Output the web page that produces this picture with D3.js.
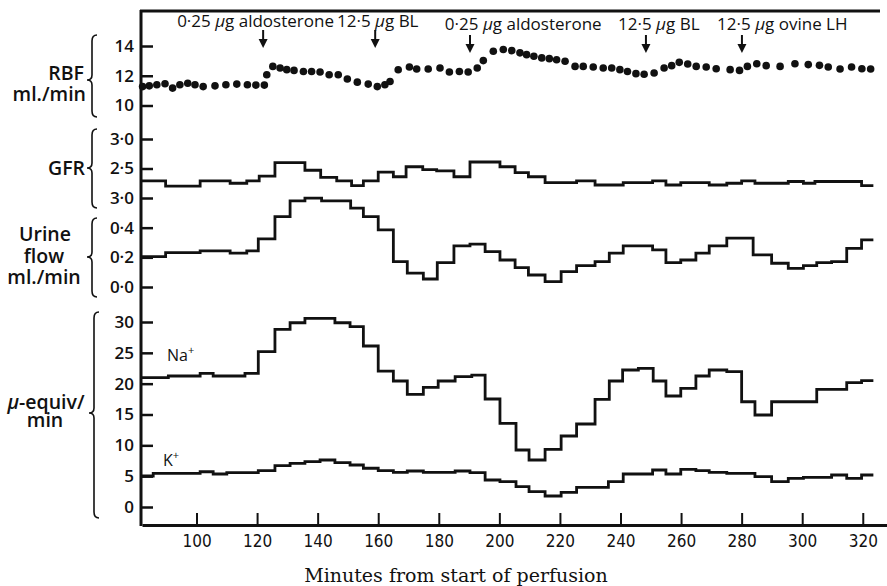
<!DOCTYPE html>
<html lang="en">
<head>
  <meta charset="UTF-8">
  <title>Perfusion</title>
  <script src="https://cdn.jsdelivr.net/npm/d3@7"></script>
  <style>
    body { margin: 0; background: #fff; }
    text { fill: #111; }
    .side { font-family: 'Open Sans', sans-serif; font-weight: 600; font-size: 19.5px; }
    .yaxis text { font-family: 'Open Sans', sans-serif; font-weight: 600; font-size: 17px; }
    .xaxis text { font-family: 'Liberation Sans Narrow', 'DejaVu Sans Condensed', 'Roboto Condensed', sans-serif; font-size: 17px; font-stretch: condensed; }
    .note { font-family: 'Open Sans', sans-serif; font-size: 17px; }
    .ion { font-family: 'Open Sans', sans-serif; font-size: 16px; }
    .title { font-family: 'DejaVu Serif', serif; font-size: 19px; }
  </style>
</head>
<body>
<div id="grafica"></div>
<script>
// minutes axis
xTicks = [100, 120, 140, 160, 180, 200, 220, 240, 260, 280, 300, 320]

// RBF (ml./min), dots
rbfTimes = [82.2, 84.4, 86.9, 89.6, 92.1, 94.5, 97.1, 99.5, 102.2, 106.1, 109.7, 113.3, 116.8, 119.6, 122.4,
  123.2, 125.2, 127.6, 129.8, 132.2, 135.3, 138.0, 140.8, 143.8, 146.8, 149.8, 153.1, 156.7, 159.7, 162.2,
  163.9, 166.6, 170.3, 172.7, 176.5, 180.4, 183.5, 186.8, 189.7, 192.7, 194.7, 198.0, 201.3, 204.1, 206.8,
  209.0, 211.4, 214.0, 216.5, 218.9, 221.7, 225.0, 227.7, 231.0, 234.3, 237.1, 239.8, 242.3, 245.1, 247.8,
  251.1, 254.4, 256.9, 259.4, 262.2, 265.0, 268.3, 271.6, 276.2, 279.3, 281.9, 285.0, 288.1, 292.7, 297.6,
  302.0, 305.7, 308.6, 312.5, 316.3, 319.7, 322.6]
rbfValues = [11.27, 11.32, 11.39, 11.46, 11.17, 11.39, 11.50, 11.39, 11.27, 11.32, 11.39, 11.44, 11.39, 11.37, 11.37,
  12.07, 12.63, 12.52, 12.41, 12.36, 12.29, 12.29, 12.25, 12.07, 12.07, 11.78, 11.57, 11.44, 11.27, 11.39,
  11.61, 12.40, 12.59, 12.45, 12.45, 12.52, 12.25, 12.29, 12.25, 12.52, 13.02, 13.65, 13.76, 13.69, 13.54,
  13.42, 13.31, 13.20, 13.15, 13.08, 12.97, 12.63, 12.63, 12.59, 12.52, 12.52, 12.41, 12.29, 12.14, 12.10,
  12.18, 12.52, 12.68, 12.90, 12.79, 12.63, 12.59, 12.47, 12.41, 12.36, 12.63, 12.81, 12.68, 12.63, 12.81,
  12.75, 12.70, 12.59, 12.45, 12.59, 12.47, 12.45]

// GFR, step periods (edges are period boundaries in minutes)
gfrEdges = [82, 89.8, 101.2, 111.1, 116.6, 120.7, 125.9, 135.8, 141.0, 146.3, 151.2, 155.1, 160.0, 165.0, 169.2,
  174.7, 179.3, 185.0, 190.3, 200.2, 205.2, 209.6, 215.1, 225.5, 231.6, 240.9, 250.6, 255.0, 259.9, 269.3,
  275.1, 280.0, 284.4, 295.4, 300.4, 304.2, 319.6, 323.5]
gfrValues = [2.29, 2.20, 2.29, 2.25, 2.29, 2.37, 2.60, 2.47, 2.35, 2.29, 2.21, 2.29, 2.44, 2.36, 2.53,
  2.48, 2.46, 2.36, 2.61, 2.53, 2.43, 2.36, 2.26, 2.29, 2.22, 2.26, 2.29, 2.22, 2.26, 2.22,
  2.25, 2.29, 2.25, 2.28, 2.25, 2.28, 2.21]

// urine flow (ml./min)
urineEdges = [82, 89.8, 101.2, 111.1, 116.6, 120.4, 125.9, 130.9, 135.8, 141.3, 150.9, 155.1, 160.0, 165.0, 169.6,
  174.9, 179.5, 185.0, 190.3, 195.3, 200.2, 205.2, 209.6, 215.1, 220.4, 225.5, 231.6, 236.3, 240.9, 250.6,
  255.0, 259.9, 264.9, 269.3, 275.1, 283.8, 289.9, 295.4, 300.4, 304.8, 309.7, 314.7, 319.6, 323.5]
urineValues = [0.205, 0.232, 0.243, 0.228, 0.243, 0.324, 0.475, 0.581, 0.599, 0.581, 0.532, 0.475, 0.385, 0.171, 0.093,
  0.054, 0.164, 0.277, 0.289, 0.239, 0.182, 0.130, 0.081, 0.036, 0.103, 0.144, 0.171, 0.228, 0.277, 0.250,
  0.164, 0.182, 0.228, 0.277, 0.329, 0.216, 0.160, 0.126, 0.144, 0.164, 0.171, 0.261, 0.318]

// Na+ and K+ (u-equiv/min)
naEdges = [82, 90.7, 101.2, 105.5, 116.0, 120.4, 125.9, 130.9, 135.8, 145.7, 150.7, 155.1, 160.0, 165.0, 169.6,
  174.9, 179.8, 185.4, 190.9, 195.3, 200.2, 205.5, 209.8, 215.1, 220.4, 225.5, 231.6, 236.3, 240.7, 245.9,
  250.8, 255.0, 259.9, 264.9, 269.3, 275.1, 280.0, 284.4, 289.9, 304.8, 314.7, 319.6, 323.5]
naValues = [20.97, 21.24, 21.68, 21.24, 21.68, 25.18, 28.81, 29.88, 30.60, 29.88, 29.24, 26.11, 22.05, 20.43, 18.27,
  19.41, 20.43, 21.13, 21.40, 17.51, 13.57, 9.24, 7.62, 9.36, 11.51, 13.46, 17.46, 20.43, 22.22, 22.49,
  20.43, 18.00, 19.25, 21.24, 22.22, 21.94, 17.07, 14.92, 17.07, 19.09, 20.16, 20.48]
kEdges = [82, 85.7, 101.2, 105.5, 110.0, 120.4, 125.9, 130.9, 135.8, 140.8, 145.7, 150.7, 155.1, 160.0, 165.0,
  169.6, 174.9, 185.4, 190.3, 195.3, 200.2, 205.5, 209.8, 215.1, 220.4, 225.5, 236.0, 240.9, 250.6, 255.0,
  259.9, 264.9, 269.3, 275.1, 284.4, 289.9, 295.4, 300.4, 309.7, 314.7, 319.6, 323.5]
kValues = [5.03, 5.46, 5.72, 5.35, 5.56, 5.89, 6.70, 7.09, 7.35, 7.62, 7.18, 6.81, 6.28, 5.89, 5.63,
  5.84, 5.63, 5.84, 5.56, 4.38, 4.10, 3.29, 2.48, 1.78, 2.38, 3.19, 4.10, 5.35, 6.00, 5.35,
  6.11, 5.89, 5.63, 5.46, 4.91, 4.10, 4.65, 4.82, 5.19, 4.65, 5.19]

// y ticks per panel
rbfTicks = [10, 12, 14]
rbfTickLabels = ['10', '12', '14']
gfrTicks = [2.0, 2.5, 3.0]
gfrTickLabels = ['3·0', '2·5', '3·0']
urineTicks = [0, 0.2, 0.4]
urineTickLabels = ['0·0', '0·2', '0·4']
ionTicks = [0, 5, 10, 15, 20, 25, 30]
ionTickLabels = ['0', '5', '10', '15', '20', '25', '30']

// injections
arrowTimes = [122, 159, 190.3, 248.4, 280.1]
arrowLabels = ['0·25 μg aldosterone', '12·5 μg BL', '0·25 μg aldosterone', '12·5 μg BL', '12·5 μg ovine LH']
labelStarts = [93.6, 146.4, 182.0, 239.2, 271.9]

ancho = 887
alto = 586
ink = '#111'

svg = d3.select('#grafica')
  .append('svg')
  .attr('width', ancho)
  .attr('height', alto)

x = d3.scaleLinear().domain([82, 328]).range([142, 887])
yRbf = d3.scaleLinear().domain([10, 14]).range([105.5, 46])
yGfr = d3.scaleLinear().domain([2, 3]).range([198, 139])
yUrine = d3.scaleLinear().domain([0, 0.6]).range([287, 198])
yIon = d3.scaleLinear().domain([0, 30]).range([507, 322])

function leftAxis(y, ticks, labels) {
  var g = svg.append('g')
    .attr('class', 'yaxis')
    .attr('transform', 'translate(141,0)')
    .call(d3.axisLeft(y).tickValues(ticks)
      .tickFormat((d, i) => labels[i])
      .tickSizeInner(-12).tickSizeOuter(0).tickPadding(7))
  g.select('.domain').remove()
  g.selectAll('line').attr('stroke', ink).attr('stroke-width', 2.5)
}
leftAxis(yRbf, rbfTicks, rbfTickLabels)
leftAxis(yGfr, gfrTicks, gfrTickLabels)
leftAxis(yUrine, urineTicks, urineTickLabels)
leftAxis(yIon, ionTicks, ionTickLabels)

xg = svg.append('g')
  .attr('class', 'xaxis')
  .attr('transform', 'translate(0,525)')
  .call(d3.axisBottom(x).tickValues(xTicks)
    .tickSizeInner(-12).tickSizeOuter(0).tickPadding(10))
xg.select('.domain').attr('stroke', ink).attr('stroke-width', 3)
xg.selectAll('line').attr('stroke', ink).attr('stroke-width', 2)

// frame: left spine and top rule
svg.append('line').attr('x1', 141).attr('x2', 141).attr('y1', 10).attr('y2', 526)
  .attr('stroke', ink).attr('stroke-width', 3)
svg.append('line').attr('x1', 140).attr('x2', 880).attr('y1', 11).attr('y2', 11)
  .attr('stroke', ink).attr('stroke-width', 3)

function steps(edges, values) {
  return edges.map((t, i) => [t, values[Math.min(i, values.length - 1)]])
}
function drawSteps(edges, values, y) {
  svg.append('path')
    .datum(steps(edges, values))
    .attr('fill', 'none')
    .attr('stroke', ink)
    .attr('stroke-width', 2.8)
    .attr('d', d3.line().x(d => x(d[0])).y(d => y(d[1])).curve(d3.curveStepAfter))
}
drawSteps(gfrEdges, gfrValues, yGfr)
drawSteps(urineEdges, urineValues, yUrine)
drawSteps(naEdges, naValues, yIon)
drawSteps(kEdges, kValues, yIon)

svg.selectAll('circle.rbf')
  .data(rbfTimes)
  .enter()
  .append('circle')
  .attr('class', 'rbf')
  .attr('cx', d => x(d))
  .attr('cy', (d, i) => yRbf(rbfValues[i]))
  .attr('r', 3.8)
  .attr('fill', ink)

// injection arrows and labels
arrowTimes.forEach(function(t, i) {
  var y0 = i < 2 ? 30 : 35
  var xa = x(t)
  svg.append('line').attr('x1', xa).attr('x2', xa).attr('y1', y0).attr('y2', y0 + 11)
    .attr('stroke', ink).attr('stroke-width', 2)
  svg.append('path')
    .attr('d', 'M' + (xa - 4.5) + ',' + (y0 + 9) + 'L' + (xa + 4.5) + ',' + (y0 + 9) + 'L' + xa + ',' + (y0 + 18) + 'Z')
    .attr('fill', ink)
  var txt = svg.append('text').attr('class', 'note')
    .attr('x', x(labelStarts[i])).attr('y', i < 2 ? 27 : 30)
  var parts = arrowLabels[i].split('μ')
  txt.append('tspan').text(parts[0])
  txt.append('tspan').attr('font-style', 'italic').text('μ')
  txt.append('tspan').text(parts[1])
})

// curly braces on the left
function brace(xb, y0, y1, ym) {
  return 'M' + (xb + 5) + ',' + y0 + ' Q' + xb + ',' + y0 + ' ' + xb + ',' + (y0 + 6) +
    ' L' + xb + ',' + (ym - 5) + ' Q' + xb + ',' + ym + ' ' + (xb - 5) + ',' + ym +
    ' Q' + xb + ',' + ym + ' ' + xb + ',' + (ym + 5) +
    ' L' + xb + ',' + (y1 - 6) + ' Q' + xb + ',' + y1 + ' ' + (xb + 5) + ',' + y1
}
[[92, 35, 117, 80], [92, 129, 208, 168], [92, 218, 297, 257], [94, 312, 518, 413]].forEach(function(b) {
  svg.append('path').attr('d', brace(b[0], b[1], b[2], b[3]))
    .attr('fill', 'none').attr('stroke', ink).attr('stroke-width', 1.6)
})

// multi-line side labels as one text with tspans
function sideLabel(lines, xs, y, gaps, anchor) {
  var t = svg.append('text').attr('class', 'side')
    .attr('y', y).attr('text-anchor', anchor)
  lines.forEach(function(s, i) {
    var sp = t.append('tspan').attr('x', xs[i]).attr('dy', i == 0 ? 0 : gaps[i - 1])
    if (s[0] == 'μ') {
      sp.append('tspan').attr('font-style', 'italic').text('μ')
      sp.append('tspan').text(s.slice(1))
    } else sp.text(s)
  })
}
sideLabel(['RBF', 'ml./min'], [84, 86], 80, [21], 'end')
sideLabel(['GFR'], [85], 175, [], 'end')
sideLabel(['Urine', 'flow', 'ml./min'], [45, 44, 44], 241, [22, 21], 'middle')
sideLabel(['μ-equiv/', 'min'], [46, 45], 409, [18], 'middle')

na = svg.append('text').attr('class', 'ion').attr('x', 167).attr('y', 361)
na.append('tspan').text('Na')
na.append('tspan').attr('dy', -7).attr('font-size', 11).text('+')
kLab = svg.append('text').attr('class', 'ion').attr('x', 163).attr('y', 466)
kLab.append('tspan').text('K')
kLab.append('tspan').attr('dy', -7).attr('font-size', 11).text('+')

svg.append('text').attr('class', 'title')
  .attr('x', 456).attr('y', 582).attr('text-anchor', 'middle')
  .text('Minutes from start of perfusion')
</script>
</body>
</html>
